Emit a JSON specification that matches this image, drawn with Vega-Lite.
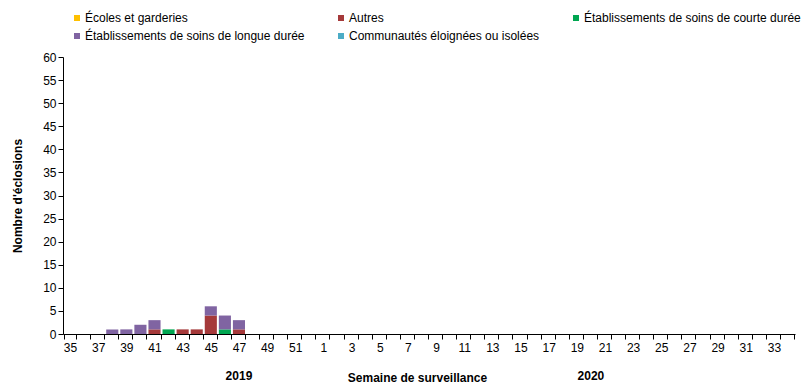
{
  "$schema": "https://vega.github.io/schema/vega-lite/v6.json",
  "width": 732,
  "height": 277,
  "autosize": {"type": "none"},
  "padding": {"left": 63, "top": 57, "right": 10, "bottom": 52},
  "background": "white",
  "config": {
    "font": "Liberation Sans",
    "view": {"stroke": null},
    "axis": {"labelFont": "Liberation Sans", "titleFont": "Liberation Sans", "labelColor": "#000", "titleColor": "#000", "domainColor": "#000", "tickColor": "#000", "grid": false}
  },
  "datasets": {
    "bars": [
      {"semaine": "38", "type": "Établissements de soins de longue durée", "n": 1},
      {"semaine": "39", "type": "Établissements de soins de longue durée", "n": 1},
      {"semaine": "40", "type": "Établissements de soins de longue durée", "n": 2},
      {"semaine": "41", "type": "Autres", "n": 1},
      {"semaine": "41", "type": "Établissements de soins de longue durée", "n": 2},
      {"semaine": "42", "type": "Établissements de soins de courte durée", "n": 1},
      {"semaine": "43", "type": "Autres", "n": 1},
      {"semaine": "44", "type": "Autres", "n": 1},
      {"semaine": "45", "type": "Autres", "n": 4},
      {"semaine": "45", "type": "Établissements de soins de longue durée", "n": 2},
      {"semaine": "46", "type": "Établissements de soins de courte durée", "n": 1},
      {"semaine": "46", "type": "Établissements de soins de longue durée", "n": 3},
      {"semaine": "47", "type": "Autres", "n": 1},
      {"semaine": "47", "type": "Établissements de soins de longue durée", "n": 2}
    ],
    "years": [
      {"semaine": "47", "annee": "2019"},
      {"semaine": "20", "annee": "2020"}
    ]
  },
  "encoding": {
    "x": {
      "field": "semaine", "type": "ordinal",
      "scale": {
        "domain": ["35","36","37","38","39","40","41","42","43","44","45","46","47","48","49","50","51","52","1","2","3","4","5","6","7","8","9","10","11","12","13","14","15","16","17","18","19","20","21","22","23","24","25","26","27","28","29","30","31","32","33","34"],
        "paddingInner": 0.14, "paddingOuter": 0.07
      },
      "axis": {
        "title": "Semaine de surveillance",
        "titleFontSize": 12, "titleFontWeight": "bold", "titlePadding": 19, "titleX": 354,
        "labelAngle": 0, "labelFontSize": 12, "labelOverlap": false,
        "labelExpr": "(+datum.value) % 2 == 1 ? datum.label : ''",
        "tickBand": "extent", "tickSize": 5, "labelPadding": 3
      }
    }
  },
  "layer": [
    {
      "data": {"name": "bars"},
      "mark": {"type": "bar"},
      "encoding": {
        "y": {
          "aggregate": "sum", "field": "n", "type": "quantitative",
          "scale": {"domain": [0, 60]},
          "axis": {
            "title": "Nombre d'éclosions", "titleFontSize": 12, "titleFontWeight": "bold", "titlePadding": 18,
            "values": [0,5,10,15,20,25,30,35,40,45,50,55,60],
            "labelFontSize": 12, "tickSize": 5, "labelOverlap": false
          }
        },
        "color": {
          "field": "type", "type": "nominal",
          "scale": {
            "domain": ["Écoles et garderies", "Autres", "Établissements de soins de courte durée", "Établissements de soins de longue durée", "Communautés éloignées ou isolées"],
            "range": ["#FFC000", "#A5393A", "#00A651", "#8064A2", "#4BACC6"]
          },
          "legend": {
            "title": null, "orient": "none", "direction": "horizontal", "columns": 3,
            "legendX": 8, "legendY": -45,
            "symbolType": "square", "symbolSize": 36, "symbolStrokeWidth": 0,
            "labelFontSize": 12, "labelOffset": 2, "labelLimit": 0, "columnPadding": 30, "rowPadding": 6
          }
        },
        "order": {"field": "type", "sort": "ascending"}
      }
    },
    {
      "data": {"name": "years"},
      "mark": {"type": "text", "fontWeight": "bold", "fontSize": 12, "dy": 42, "color": "#000"},
      "encoding": {
        "y": {
          "datum": 0, "type": "quantitative",
          "axis": {
            "title": "Nombre d'éclosions", "titleFontSize": 12, "titleFontWeight": "bold", "titlePadding": 18,
            "values": [0,5,10,15,20,25,30,35,40,45,50,55,60],
            "labelFontSize": 12, "tickSize": 5, "labelOverlap": false
          }
        },
        "text": {"field": "annee"}
      }
    }
  ]
}
